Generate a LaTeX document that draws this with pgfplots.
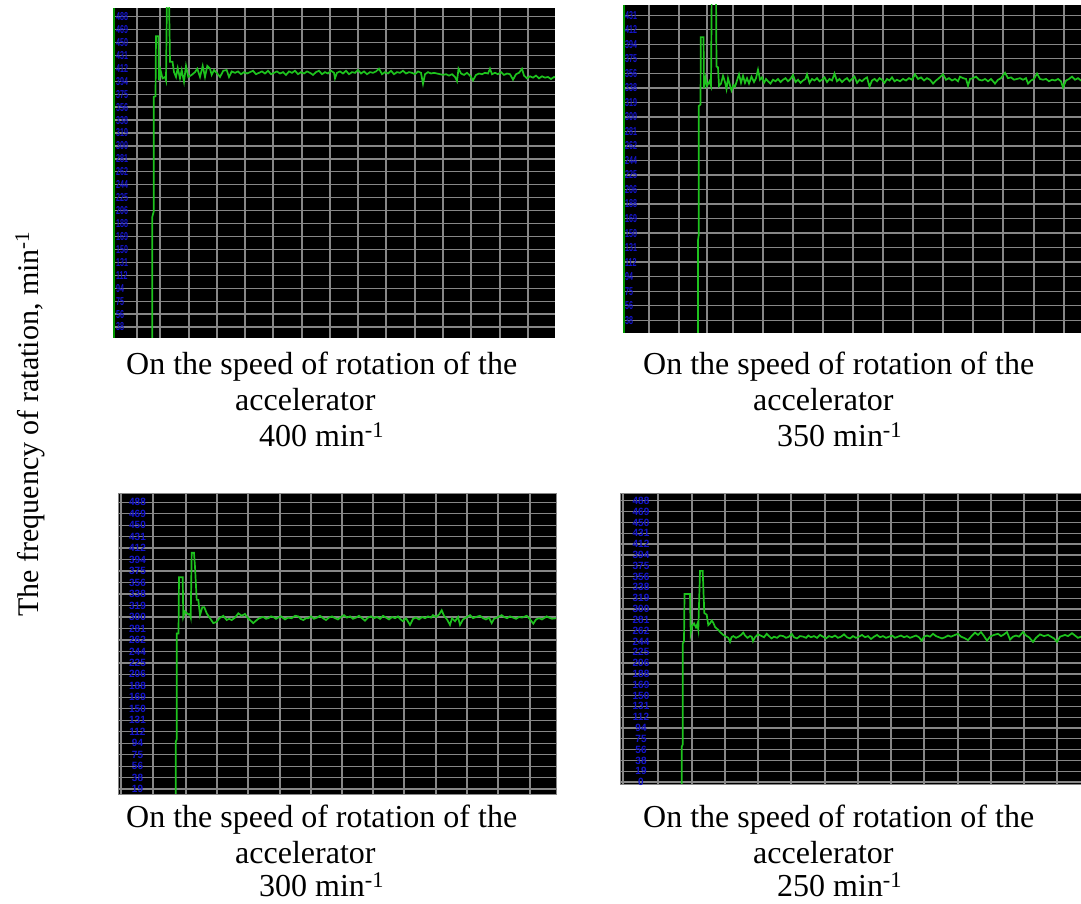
\documentclass[border=0pt]{standalone}
\usepackage{fontspec}
\setmainfont{Liberation Serif}
\newfontfamily\lblfont{Liberation Sans}
\usepackage{pgfplots}
\pgfplotsset{compat=1.18}
\definecolor{trace}{RGB}{30,195,30}
\definecolor{gridc}{RGB}{135,135,135}
\definecolor{lblc}{RGB}{20,20,205}
\pgfplotsset{
  panel/.style={
    set layers=standard,
    scale only axis,
    axis background/.style={fill=black},
    axis line style={draw=none},
    grid=major,
    major grid style={gridc, line width=1.3pt},
    major tick length=0pt,
    xticklabels={},
    clip=true,
  },
  trc/.style={trace, line width=1.7pt, no marks},
}
\begin{document}
\begin{tikzpicture}

% ---------- Panel 1 : 400 ----------
\begin{axis}[panel, at={(113pt,566pt)}, anchor=south west,
  width=442pt, height=330pt, xmin=113, xmax=555, ymin=21.6, ymax=500,
  xtick={137,160,189,217,245,273,302,330,358,386,415,443,471,500,528},
  ytick={37.5,56.25,75,93.75,112.5,131.25,150,168.75,187.5,206.25,225,243.75,262.5,281.25,300,318.75,337.5,356.25,375,393.75,412.5,431.25,450,468.75,487.5},
  yticklabels={38,56,75,94,112,131,150,169,188,206,225,244,262,281,300,319,338,356,375,394,412,431,450,469,488},
  yticklabel style={anchor=west, inner sep=0pt, xshift=3pt, xscale=0.62, text=lblc, font=\lblfont\bfseries\fontsize{11.5}{11.5}\selectfont},
  extra x ticks={114}, extra x tick labels={},
  extra x tick style={major grid style={green!60!black, line width=1.5pt}},
]
\addplot[trc] table {
152.3 10
152.3 197
153.7 205
153.7 371
155.5 372
156.0 459
158.5 459
159.0 395
160.5 410
162.5 398
165.0 400
166.0 395
167.3 560
168.5 560
170.0 422
172.5 422
174.0 407
176.0 400
177.7 413
180.0 398
181.7 410
184.0 393
186.0 416
188.3 400
191.7 403
195.0 407
197.3 412
200.0 400
202.7 416
205.0 400
207.3 416
210.0 412
211.7 403
214.0 410
217.3 405
220.0 400
223.3 409
226.7 410
229.0 400
231.7 408
235.0 406
238.0 408
241.0 404
244.0 407
247.0 405
250.0 407
253.0 409
256.0 404
259.0 406
262.0 408
265.0 405
268.0 409
271.0 404
274.0 406
277.0 408
280.0 405
283.0 407
286.0 403
289.0 408
292.0 406
295.0 409
298.0 404
301.0 407
304.0 405
307.0 408
310.0 406
313.0 403
316.0 407
319.0 409
322.0 404
325.0 407
328.0 405
331.0 409
334.0 406
335.0 398
337.0 406
340.0 408
343.0 405
346.0 409
349.0 404
352.0 407
355.0 406
358.0 410
361.0 405
364.0 408
367.0 404
370.0 407
373.0 406
376.0 408
379.0 412
382.0 404
385.0 407
388.0 405
391.0 409
394.0 404
397.0 407
400.0 406
403.0 409
406.0 405
409.0 407
412.0 406
415.0 404
418.0 408
421.0 406
423.0 390
425.0 404
428.0 407
431.0 405
434.0 406
437.0 405
440.0 404
443.0 403
446.0 404
449.0 402
452.0 404
455.0 400
457.0 394
458.5 412
461.0 405
464.0 403
467.0 406
470.0 402
473.0 395
476.0 403
479.0 405
482.0 404
485.0 406
488.0 405
490.0 412
492.0 404
495.0 406
498.0 404
501.0 407
504.0 403
507.0 405
510.0 404
513.0 396
516.0 404
519.0 406
522.0 412
524.0 402
527.0 398
530.0 401
533.0 399
536.0 402
539.0 398
542.0 401
545.0 399
548.0 400
551.0 397
554.0 400
556.0 399
};
\end{axis}

% ---------- Panel 2 : 350 ----------
\begin{axis}[panel, at={(623pt,571pt)}, anchor=south west,
  width=467pt, height=328pt, xmin=623, xmax=1090, ymin=21, ymax=444.5,
  xtick={649,679,707,733,763,793,823,853,883,913,943,973,1003,1034,1064},
  ytick={37.5,56.25,75,93.75,112.5,131.25,150,168.75,187.5,206.25,225,243.75,262.5,281.25,300,318.75,337.5,356.25,375,393.75,412.5,431.25},
  yticklabels={38,56,75,94,112,131,150,169,188,206,225,244,262,281,300,319,338,356,375,394,412,431},
  yticklabel style={anchor=west, inner sep=0pt, xshift=2pt, xscale=0.62, text=lblc, font=\lblfont\bfseries\fontsize{11.5}{11.5}\selectfont},
  extra x ticks={624}, extra x tick labels={},
  extra x tick style={major grid style={green!60!black, line width=1.5pt}},
]
\addplot[trc] table {
698.0 5
698.0 141
698.8 148
698.8 314
700.5 316
700.8 403
703.5 403
704.0 337
705.5 350
707.0 340
709.5 346
711.0 340
712.3 560
715.5 560
716.5 365
718.0 364
719.0 340
721.0 343
723.0 353
725.0 345
726.5 336
728.0 350
729.5 343
731.5 334
733.5 341
735.0 339
737.0 347
739.0 355
741.0 344
743.0 353
745.0 344
747.0 350
749.0 343
751.5 352
754.0 345
756.0 350
758.0 361
760.0 348
762.0 351
764.0 344
766.0 349
768.0 346
770.5 343
773.0 348
775.5 346
778.0 349
780.5 345
783.0 348
785.5 350
788.0 346
790.5 349
793.0 354
795.5 345
798.0 348
800.5 344
803.0 347
805.5 349
807.0 355
809.5 344
812.0 349
814.5 347
817.0 350
819.5 346
822.0 348
824.5 351
827.0 345
829.5 349
832.0 347
834.5 356
837.0 346
839.5 349
842.0 345
844.5 348
847.0 350
849.5 346
852.0 349
854.5 352
857.0 344
859.5 348
862.0 346
864.5 349
867.0 351
869.5 339
872.0 347
874.5 349
877.0 346
879.5 350
882.0 348
884.5 344
887.0 349
889.5 347
892.0 351
894.5 346
897.0 348
900.0 346
903.0 349
906.0 347
909.0 350
912.0 348
915.0 355
918.0 349
921.0 351
924.0 347
927.0 350
930.0 348
933.0 343
936.0 347
939.0 350
943.0 355
946.0 348
949.0 350
952.0 347
955.0 349
958.0 346
960.0 352
963.0 350
966.0 349
968.0 340
970.0 349
973.0 350
976.0 352
979.0 348
982.0 347
985.0 349
988.0 346
991.0 349
995.0 343
998.0 348
1001.0 350
1005.0 357
1008.0 350
1011.0 351
1014.0 348
1017.0 349
1020.0 350
1023.0 348
1026.0 350
1028.0 343
1031.0 347
1034.0 349
1037.0 356
1040.0 349
1043.0 348
1046.0 349
1049.0 346
1052.0 348
1055.0 347
1058.0 349
1061.0 346
1063.0 338
1066.0 347
1069.0 349
1072.0 352
1075.0 348
1078.0 350
1081.0 347
1085.0 349
};
\end{axis}

% ---------- Panel 3 : 300 ----------
\begin{axis}[panel, at={(118pt,110pt)}, anchor=south west,
  width=438pt, height=301pt, xmin=118, xmax=556, ymin=10.8, ymax=502.6,
  axis line style={draw=gridc, line width=0.8pt},
  xtick={153,186,217,248,280,311,342,373,404,436,467,498,530},
  ytick={18.75,37.5,56.25,75,93.75,112.5,131.25,150,168.75,187.5,206.25,225,243.75,262.5,281.25,300,318.75,337.5,356.25,375,393.75,412.5,431.25,450,468.75,487.5},
  yticklabels={19,38,56,75,94,112,131,150,169,188,206,225,244,262,281,300,319,338,356,375,394,412,431,450,469,488},
  yticklabel style={anchor=center, inner sep=0pt, xshift=19.5pt, xscale=0.95, text=lblc, font=\lblfont\bfseries\fontsize{10.5}{10.5}\selectfont},
  extra x ticks={121}, extra x tick labels={},
]
\addplot[trc] table {
175.7 5
175.7 96
176.7 100
176.7 273
178.5 273
179.0 365
182.7 365
183.3 300
185.0 309
187.0 306
188.5 304
190.0 305
190.7 300
191.7 405
194.0 405
195.0 382
196.7 328
198.3 328
200.0 303
202.3 316
204.3 316
206.7 306
210.0 298
213.3 290
216.7 292
219.3 298
223.3 302
226.7 295
229.0 297
231.7 295
235.0 299
238.3 306
241.7 302
245.0 305
247.5 299
250.0 295
253.3 290
256.0 294
258.3 297
261.0 299
263.3 300
266.0 297
268.3 298
271.0 301
273.3 300
276.0 297
278.3 299
281.0 301
285.0 296
288.0 299
291.7 298
295.0 302
298.3 301
300.5 297
303.3 295
306.0 298
308.3 298
311.0 301
314.0 297
317.0 299
320.0 302
323.0 298
326.0 295
329.0 299
332.0 301
335.0 298
338.0 296
341.0 300
344.0 303
347.0 299
350.0 301
353.0 297
356.0 299
359.0 302
362.0 298
365.0 294
368.0 299
371.0 301
374.0 298
377.0 300
380.0 297
383.0 302
386.0 299
389.0 296
392.0 300
395.0 298
398.0 301
400.0 297
403.0 293
406.0 298
410.0 287
413.0 297
416.0 299
419.0 296
422.0 300
425.0 298
428.0 301
431.0 299
433.0 303
436.0 300
439.0 304
441.7 311
444.0 302
447.0 296
450.0 287
452.0 298
455.0 293
458.0 300
460.0 287
463.0 296
466.0 299
470.0 303
473.0 298
476.0 300
480.0 302
483.0 298
486.0 296
489.0 299
491.7 290
494.0 297
497.0 299
501.7 303
504.0 300
507.0 298
510.0 301
513.0 299
516.0 297
519.0 300
522.0 299
526.7 302
529.0 298
531.0 294
533.3 289
536.0 296
539.0 298
542.0 296
546.7 301
549.0 299
552.0 297
556.0 298
};
\end{axis}

% ---------- Panel 4 : 250 ----------
\begin{axis}[panel, at={(620pt,120pt)}, anchor=south west,
  width=470pt, height=291pt, xmin=620, xmax=1090, ymin=-3.3, ymax=501,
  axis line style={draw=gridc, line width=0.8pt},
  xtick={658,692,725,758,791,825,858,891,924,958,991,1024,1057},
  ytick={0,18.75,37.5,56.25,75,93.75,112.5,131.25,150,168.75,187.5,206.25,225,243.75,262.5,281.25,300,318.75,337.5,356.25,375,393.75,412.5,431.25,450,468.75,487.5},
  yticklabels={0,19,38,56,75,94,112,131,150,169,188,206,225,244,262,281,300,319,338,356,375,394,412,431,450,469,488},
  yticklabel style={anchor=center, inner sep=0pt, xshift=21pt, xscale=0.95, text=lblc, font=\lblfont\bfseries\fontsize{10.5}{10.5}\selectfont},
  extra x ticks={623}, extra x tick labels={},
]
\addplot[trc] table {
681.7 -10
681.7 61
682.7 65
682.7 240
684.0 244
684.5 326
690.0 326
690.7 258
692.0 270
694.0 275
696.0 268
697.3 274
698.3 264
700.0 366
702.7 366
704.3 293
706.7 290
708.3 272
710.0 275
711.7 280
713.3 276
715.0 269
716.7 266
718.3 264
720.0 260
723.3 255
726.0 252
728.3 250
730.0 243
731.5 251
733.3 253
736.0 250
738.5 252
741.0 255
743.3 259
745.0 254
747.5 250
750.0 253
751.7 252
753.0 244
755.0 251
758.0 256
761.7 253
764.0 251
766.7 257
769.0 253
771.5 249
774.0 252
777.0 250
780.0 254
783.3 253
786.0 250
789.0 252
791.7 257
794.0 251
797.0 249
800.0 253
803.3 252
806.0 250
808.3 254
811.0 251
814.0 253
817.0 250
820.0 255
823.0 252
826.0 249
829.0 253
832.0 251
835.0 254
838.0 250
841.0 252
844.0 256
847.0 251
850.0 249
853.0 253
856.0 250
859.0 252
862.0 255
865.0 251
868.0 253
871.0 248
874.0 252
877.0 255
880.0 251
883.0 253
886.0 250
889.0 252
892.0 254
895.0 250
898.0 252
901.0 254
904.0 251
907.0 253
910.0 250
913.0 252
916.0 254
919.0 251
921.7 245
924.0 252
927.0 254
930.0 252
933.0 257
936.0 253
939.0 251
942.0 249
945.0 251
948.0 254
951.0 252
955.0 255
958.0 257
961.0 252
964.0 250
968.0 246
971.0 252
975.0 259
978.0 255
981.0 260
984.0 253
987.0 245
990.0 252
994.0 255
998.0 257
1001.0 253
1004.0 256
1007.0 260
1010.0 247
1013.0 252
1016.0 254
1019.0 252
1023.0 260
1026.0 254
1029.0 251
1033.0 243
1036.0 250
1040.0 256
1044.0 253
1048.0 255
1051.0 252
1054.0 249
1057.0 243
1060.0 252
1065.0 255
1068.0 253
1072.0 258
1075.0 254
1078.0 250
1081.0 252
1085.0 253
};
\end{axis}

% ---------- captions ----------
\begin{scope}[every node/.style={font=\fontsize{32}{37}\selectfont, inner sep=0pt}]
\node[anchor=base west] at (126pt,529pt) {On the speed of rotation of the};
\node[anchor=base west] at (235pt,493pt) {accelerator};
\node[anchor=base west] at (259pt,457pt) {400 min\textsuperscript{-1}};
\node[anchor=base west] at (643pt,529pt) {On the speed of rotation of the};
\node[anchor=base west] at (753pt,493pt) {accelerator};
\node[anchor=base west] at (777pt,457pt) {350 min\textsuperscript{-1}};
\node[anchor=base west] at (126pt,76pt) {On the speed of rotation of the};
\node[anchor=base west] at (235pt,40pt) {accelerator};
\node[anchor=base west] at (259pt,7pt) {300 min\textsuperscript{-1}};
\node[anchor=base west] at (643pt,76pt) {On the speed of rotation of the};
\node[anchor=base west] at (753pt,40pt) {accelerator};
\node[anchor=base west] at (777pt,7pt) {250 min\textsuperscript{-1}};
\node[rotate=90, font=\fontsize{30}{36}\selectfont] at (30pt,480pt) {The frequency of ratation, min\textsuperscript{-1}};
\end{scope}
\pgfresetboundingbox
\useasboundingbox (0pt,0pt) rectangle (1081pt,904pt);
\end{tikzpicture}
\end{document}
